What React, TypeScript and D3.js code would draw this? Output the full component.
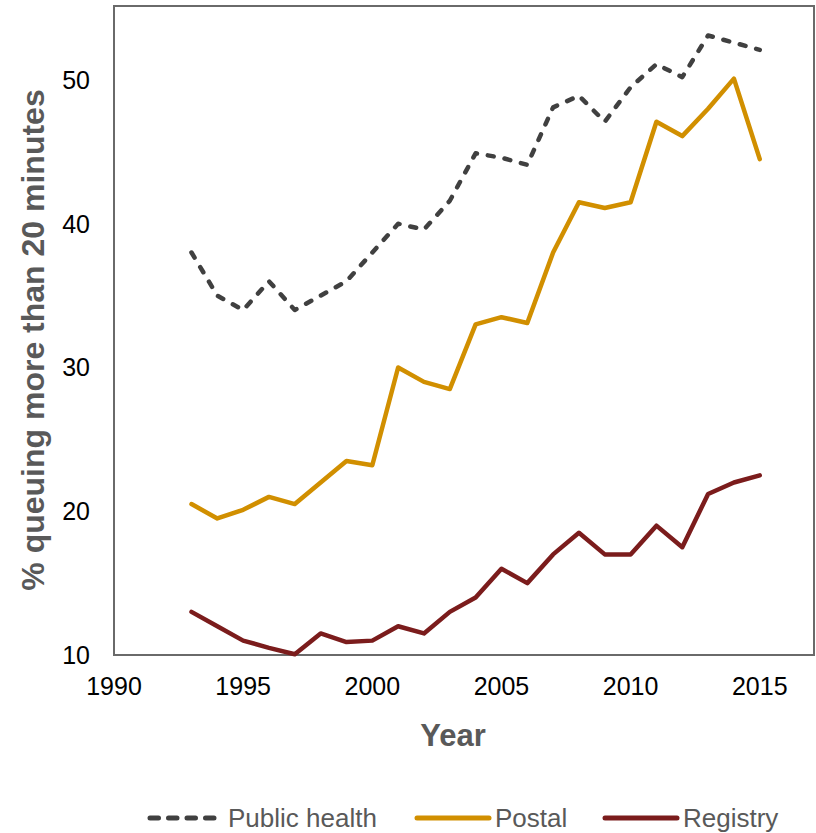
import React from "react";
import * as d3 from "d3";

const years = [1993, 1994, 1995, 1996, 1997, 1998, 1999, 2000, 2001, 2002, 2003, 2004, 2005, 2006, 2007, 2008, 2009, 2010, 2011, 2012, 2013, 2014, 2015];
const publicHealth = [38, 35, 34, 36, 34, 35, 36, 38, 40, 39.6, 41.6, 44.9, 44.6, 44.1, 48.1, 48.9, 47.1, 49.5, 51.1, 50.2, 53.1, 52.6, 52.1];
const postal = [20.5, 19.5, 20.1, 21.0, 20.5, 22.0, 23.5, 23.2, 30.0, 29.0, 28.5, 33.0, 33.5, 33.1, 38.0, 41.5, 41.1, 41.5, 47.1, 46.1, 48.0, 50.1, 44.5];
const registry = [13.0, 12.0, 11.0, 10.5, 10.05, 11.5, 10.9, 11.0, 12.0, 11.5, 13.0, 14.0, 16.0, 15.0, 17.0, 18.5, 17.0, 17.0, 19.0, 17.5, 21.2, 22.0, 22.5];
const xTicks = [1990, 1995, 2000, 2005, 2010, 2015];
const yTicks = [10, 20, 30, 40, 50];
const seriesNames = ["Public health", "Postal", "Registry"];
const seriesColors = ["#404040", "#D18F00", "#7B1C1C"];

export default function App() {
  const W = 816, H = 833;
  const left = 114, right = 814, top = 6, bottom = 655;
  const x = d3.scaleLinear().domain([1990, 2017.1]).range([left, right]);
  const y = d3.scaleLinear().domain([10, 55.15]).range([bottom, top]);
  const line = d3.line<number>().x((_, i) => x(years[i])).y((d) => y(d));
  const series = [publicHealth, postal, registry];
  const font = "Liberation Sans, Arial, sans-serif";
  const legendX = [150, 417, 605];
  return (
    <svg width={W} height={H} style={{ position: "absolute", left: 0, top: 0 }} fontFamily={font}>
      <rect x={0} y={0} width={W} height={H} fill="#fff" />
      <rect x={left} y={top} width={right - left} height={bottom - top} fill="none" stroke="#6a6a6a" strokeWidth={2} />
      {series.map((s, k) => (
        <path key={k} d={line(s) || ""} fill="none" stroke={seriesColors[k]} strokeWidth={4.5}
          strokeLinejoin="round" strokeLinecap="round" strokeDasharray={k === 0 ? "6 11" : undefined} />
      ))}
      {yTicks.map((t) => (
        <text key={t} x={90} y={y(t)} dy="0.35em" textAnchor="end" fontSize={25} fill="#000">{t}</text>
      ))}
      {xTicks.map((t) => (
        <text key={t} x={x(t)} y={695} textAnchor="middle" fontSize={25} fill="#000">{t}</text>
      ))}
      <text x={453} y={746} textAnchor="middle" fontSize={31} fontWeight="bold" fill="#595959">Year</text>
      <text transform={`translate(44,340) rotate(-90)`} textAnchor="middle" fontSize={32} fontWeight="bold" fill="#595959">% queuing more than 20 minutes</text>
      {seriesNames.map((n, k) => (
        <g key={n}>
          <line x1={legendX[k]} x2={legendX[k] + 72} y1={818} y2={818} stroke={seriesColors[k]} strokeWidth={5}
            strokeLinecap="round" strokeDasharray={k === 0 ? "8.5 10" : undefined} />
          <text x={legendX[k] + 78} y={827} fontSize={26} fill="#595959">{n}</text>
        </g>
      ))}
    </svg>
  );
}
